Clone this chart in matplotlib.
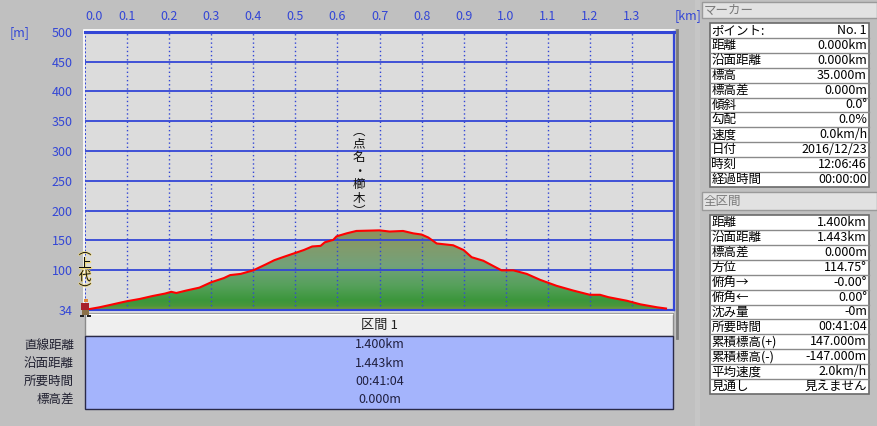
import numpy as np
import matplotlib
matplotlib.use("Agg")
import matplotlib.pyplot as plt
from matplotlib.colors import LinearSegmentedColormap
from matplotlib.patches import Rectangle, Polygon
import matplotlib.patheffects as pe

plt.rcParams['font.family'] = ['Noto Sans CJK JP', 'DejaVu Sans']

# --- data ---
dist_km = [0.000, 0.010, 0.034, 0.060, 0.098, 0.130, 0.161, 0.190, 0.205, 0.217,
           0.240, 0.272, 0.300, 0.330, 0.345, 0.370, 0.400, 0.430, 0.450, 0.470,
           0.495, 0.520, 0.540, 0.560, 0.570, 0.590, 0.598, 0.622, 0.645, 0.700,
           0.724, 0.756, 0.780, 0.800, 0.816, 0.836, 0.875, 0.900, 0.919, 0.947,
           0.971, 0.990, 1.018, 1.050, 1.082, 1.121, 1.161, 1.200, 1.224, 1.244,
           1.288, 1.320, 1.360, 1.381]
elev_m = [35, 35, 38, 42, 48, 52, 57, 61, 64, 62,
          66, 71, 80, 87, 92, 94, 100, 110, 117, 122,
          128, 134, 140, 141, 147, 151, 157, 162, 166, 167,
          165, 166, 162, 160, 155, 145, 142, 134, 122, 116,
          107, 100, 100, 94, 84, 74, 66, 59, 59, 55,
          49, 43, 38, 36]

x_ticks = [0.0, 0.1, 0.2, 0.3, 0.4, 0.5, 0.6, 0.7, 0.8, 0.9, 1.0, 1.1, 1.2, 1.3]
y_ticks = [34, 100, 150, 200, 250, 300, 350, 400, 450, 500]
x_max = 1.4

start_label = "上代"
peak_label = "点名・櫛木"
peak_km = 0.651
peak_label_y = 266

section_title = "区間 1"
section_labels = ["直線距離", "沿面距離", "所要時間", "標高差"]
section_values = ["1.400km", "1.443km", "00:41:04", "0.000m"]

marker_title = "マーカー"
marker_labels = ["ポイント:", "距離", "沿面距離", "標高", "標高差", "傾斜", "勾配",
                 "速度", "日付", "時刻", "経過時間"]
marker_values = ["No. 1", "0.000km", "0.000km", "35.000m", "0.000m", "0.0°", "0.0%",
                 "0.0km/h", "2016/12/23", "12:06:46", "00:00:00"]

total_title = "全区間"
total_labels = ["距離", "沿面距離", "標高差", "方位", "俯角→", "俯角←", "沈み量",
                "所要時間", "累積標高(+)", "累積標高(-)", "平均速度", "見通し"]
total_values = ["1.400km", "1.443km", "0.000m", "114.75°", "-0.00°", "0.00°", "-0m",
                "00:41:04", "147.000m", "-147.000m", "2.0km/h", "見えません"]

# --- colours ---
BG = '#c0c0c0'
BLUE = '#3346d6'
W, H = 877, 426

fig = plt.figure(figsize=(W / 100, H / 100), dpi=100, facecolor=BG)

# pixel overlay for the window furniture
bg = fig.add_axes([0, 0, 1, 1], zorder=0)
bg.set_xlim(0, W)
bg.set_ylim(H, 0)
bg.axis('off')

# --- profile axes ---
left, right, top, bottom = 85, 674, 31.7, 309.7
ax = fig.add_axes([left / W, 1 - bottom / H, (right - left) / W, (bottom - top) / H], zorder=2)
ax.set_facecolor('#dcdcdc')

# gradient fill clipped to the profile
stops = [(0.00, '#7d9a3e'), (0.05, '#4a963a'), (0.12, '#3b963b'), (0.30, '#55a05a'),
         (0.55, '#72a27a'), (0.78, '#829b6c'), (1.00, '#8e925c')]
cmap = LinearSegmentedColormap.from_list('terrain_fill', stops)
grad = np.linspace(0, 1, 256).reshape(-1, 1)
img = ax.imshow(grad, extent=[0, x_max, y_ticks[0], max(elev_m)], origin='lower',
                aspect='auto', cmap=cmap, zorder=1, interpolation='bilinear')
verts = list(zip(dist_km, elev_m)) + [(dist_km[-1], y_ticks[0]), (dist_km[0], y_ticks[0])]
clip = Polygon(verts, closed=True, facecolor='none', edgecolor='none')
ax.add_patch(clip)
img.set_clip_path(clip)

# grid
for y in y_ticks:
    if y_ticks[1] <= y < y_ticks[-1]:
        ax.axhline(y, color=BLUE, lw=1.3, zorder=3)
for x in x_ticks[1:]:
    ax.axvline(x, color=BLUE, lw=1.0, ls=(0, (1, 2)), zorder=3)
ax.axvline(0, color=BLUE, lw=1.4, ls=(0, (1, 1)), zorder=3)

ax.plot(dist_km, elev_m, color='#ff0000', lw=1.5, zorder=4)

ax.set_xlim(0, x_max)
ax.set_ylim(y_ticks[0], y_ticks[-1])

ax.xaxis.tick_top()
ax.set_xticks(x_ticks)
ax.set_xticklabels([f"{v:.1f}" for v in x_ticks])
ax.set_yticks(y_ticks)
ax.set_yticklabels([str(v) for v in y_ticks])
ax.tick_params(length=0, colors=BLUE, labelsize=9)
ax.tick_params(axis='x', pad=6)
ax.tick_params(axis='y', pad=9)
ax.get_xticklabels()[0].set_horizontalalignment('left')

for s in ['top', 'right', 'bottom']:
    ax.spines[s].set_color(BLUE)
ax.spines['top'].set_linewidth(2.2)
ax.spines['right'].set_linewidth(1.6)
ax.spines['bottom'].set_linewidth(1.6)
ax.spines['left'].set_visible(False)

# vertical place names
halo = [pe.withStroke(linewidth=1.0, foreground='#efd77a')]
ax.text(peak_km, peak_label_y, "\n".join(["︵"] + list(peak_label) + ["︶"]),
        ha='center', va='center', fontsize=9, linespacing=1.05, color='#101010',
        zorder=6, clip_on=False)
ax.text(dist_km[0], elev_m[0] + 65, "\n".join(["︵"] + list(start_label) + ["︶"]),
        ha='center', va='center', fontsize=9, linespacing=1.0, color='#101010',
        zorder=6, clip_on=False, path_effects=halo)

# window frame around the profile
bg.plot([left - 1.5, left - 1.5], [top - 1, bottom + 2], color='white', lw=1.2)
bg.plot([left - 1.5, right], [top - 2, top - 2], color='white', lw=1.2)
bg.plot([right + 2.5, right + 2.5], [top - 2, 338], color='#7a7a7a', lw=2)
bg.add_patch(Rectangle((left, bottom + 1), right - left, 3, facecolor='#e6e6e6', edgecolor='none'))

# axis unit labels
bg.text(10, 33, "[m]", ha='left', va='center', fontsize=9, color=BLUE)
bg.text(688, 16, "[km]", ha='center', va='center', fontsize=9, color=BLUE)

# hiker icon at the start point
top_ov = fig.add_axes([0, 0, 1, 1], zorder=5)
top_ov.set_xlim(0, W)
top_ov.set_ylim(H, 0)
top_ov.axis('off')
top_ov.add_patch(Rectangle((84, 299), 4, 3, facecolor='#e08a3a', edgecolor='none'))
top_ov.add_patch(Rectangle((81, 303), 8, 7, facecolor='#a8202c', edgecolor='none'))
top_ov.add_patch(Rectangle((82, 310), 7, 5, facecolor='#8a7048', edgecolor='none'))
top_ov.add_patch(Rectangle((80, 315), 4, 2, facecolor='#202020', edgecolor='none'))
top_ov.add_patch(Rectangle((87, 315), 4, 2, facecolor='#202020', edgecolor='none'))

# --- section table under the profile ---
bg.add_patch(Rectangle((left, 313), right - left - 1, 23, facecolor='#efefef', edgecolor='#8a8a8a', lw=1))
bg.plot([left + 1, right - 2], [314, 314], color='white', lw=1)
bg.text((left + right) / 2, 325, section_title, ha='center', va='center', fontsize=9.5, color='#202020')
bg.add_patch(Rectangle((left, 336), right - left - 1, 73, facecolor='#a4b4fc', edgecolor='#2a2a48', lw=1))
row_y = [345, 363.3, 381.7, 399.3]
for yy, lab, val in zip(row_y, section_labels, section_values):
    bg.text(74, yy, lab, ha='right', va='center', fontsize=9, color='#202030')
    bg.text((left + right) / 2, yy, val, ha='center', va='center', fontsize=9, color='#202040')


# --- right hand info panel ---
def header(y0, y1, title):
    bg.add_patch(Rectangle((702, y0), W - 702, y1 - y0, facecolor='#e2e2e2', edgecolor='#9a9a9a', lw=1))
    bg.text(704, (y0 + y1) / 2, title, ha='left', va='center', fontsize=9, color='#7a7a7a')


def table(y0, y1, labels, values):
    n = len(labels)
    h = (y1 - y0) / n
    bg.add_patch(Rectangle((710, y0), 159, y1 - y0, facecolor='white', edgecolor='#6a6a6a', lw=1.2))
    for i, (lab, val) in enumerate(zip(labels, values)):
        yc = y0 + (i + 0.5) * h
        if i > 0:
            bg.plot([710, 869], [y0 + i * h, y0 + i * h], color='#8a8a8a', lw=1)
        bg.text(711.5, yc, lab, ha='left', va='center', fontsize=9, color='black')
        bg.text(867, yc, val, ha='right', va='center', fontsize=9, color='black')


bg.add_patch(Rectangle((695, 0), 5, H, facecolor='#c6c6c6', edgecolor='none'))
header(2, 18, marker_title)
table(23.3, 186.7, marker_labels, marker_values)
header(192, 210, total_title)
table(215, 394, total_labels, total_values)

fig.savefig("out.png", dpi=100, facecolor=BG)
